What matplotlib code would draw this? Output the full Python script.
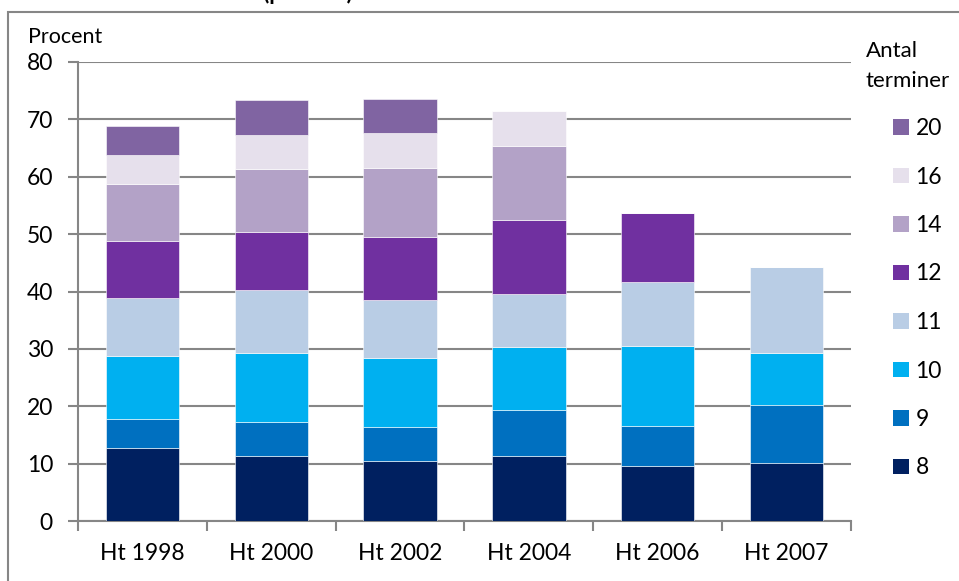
import numpy as np
import matplotlib.pyplot as plt
from matplotlib.patches import Rectangle, Patch

plt.rcParams['font.family'] = ['Lato', 'DejaVu Sans']

periods = ['Ht 1998', 'Ht 2000', 'Ht 2002', 'Ht 2004', 'Ht 2006', 'Ht 2007']
terms = ['8', '9', '10', '11', '12', '14', '16', '20']
t8 = [12.7, 11.3, 10.5, 11.4, 9.6, 10.1]
t9 = [5.0, 6.0, 5.9, 8.0, 7.0, 10.1]
t10 = [11.0, 12.0, 12.0, 11.0, 13.9, 9.1]
t11 = [10.1, 11.0, 10.1, 9.1, 11.1, 14.9]
t12 = [10.0, 10.0, 11.0, 12.9, 12.0, 0]
t14 = [9.9, 11.0, 12.0, 13.0, 0, 0]
t16 = [5.1, 6.0, 6.1, 6.0, 0, 0]
t20 = [5.0, 6.0, 5.9, 0, 0, 0]
series = [t8, t9, t10, t11, t12, t14, t16, t20]
colors = ['#002060', '#0070C0', '#00B0F0', '#B9CDE5',
          '#7030A0', '#B3A2C7', '#E6E0EC', '#8064A2']

fig = plt.figure(figsize=(9.59, 5.81), dpi=100)
ax = fig.add_axes([78/959, 1-521/581, (851-78)/959, (521-62)/581])

x = np.arange(len(periods))
bottom = np.zeros(len(periods))
for vals, c in zip(series, colors):
    v = np.array(vals)
    ax.bar(x, v, width=0.57, bottom=bottom, color=c, edgecolor='white',
           linewidth=0.4, zorder=3)
    bottom += v

ax.set_xlim(-0.5, len(periods)-0.5)
ax.set_ylim(0, 80)
ax.set_yticks(range(0, 81, 10))
ax.set_xticks(x)
ax.set_xticklabels(periods)
ax.set_xticks(np.arange(-0.5, len(periods)), minor=True)
ax.tick_params(axis='x', which='major', length=0, labelsize=16.5, pad=16)
ax.tick_params(axis='x', which='minor', length=7, color='#868686', width=1.5)
ax.tick_params(axis='y', length=7, color='#868686', width=1.5, labelsize=16.5, pad=11)
ax.grid(axis='y', color='#868686', linewidth=1.5, zorder=0)
for s in ['top', 'right']:
    ax.spines[s].set_visible(False)
for s in ['left', 'bottom']:
    ax.spines[s].set_color('#868686')
    ax.spines[s].set_linewidth(1.5)

fig.text(28/959, 1-37/581, 'Procent', fontsize=15.5, va='center', ha='left')

# title, mostly cut off at the top edge
fig.text(0.0, 1.0, 'Andel efter antal terminer (procent)', fontsize=16,
         fontweight='bold', va='baseline', ha='left')

# outer chart border
fig.add_artist(Rectangle((8/959, -0.1), 1.2, 1-12/581+0.1, transform=fig.transFigure,
                         fill=False, edgecolor='#868686', linewidth=1.5))

fig.text(866/959, 1-51/581, 'Antal', fontsize=16, va='center', ha='left')
fig.text(866/959, 1-81/581, 'terminer', fontsize=16, va='center', ha='left')

handles = [Patch(facecolor=c, edgecolor='none') for c in colors][::-1]
fig.legend(handles, terms[::-1], loc='upper left', bbox_to_anchor=(893/959, 1-118/581),
           frameon=False, fontsize=16.5, handlelength=0.68, handleheight=0.68,
           handletextpad=0.3, labelspacing=1.2, borderpad=0, borderaxespad=0)

fig.savefig('out.png', dpi=100)
